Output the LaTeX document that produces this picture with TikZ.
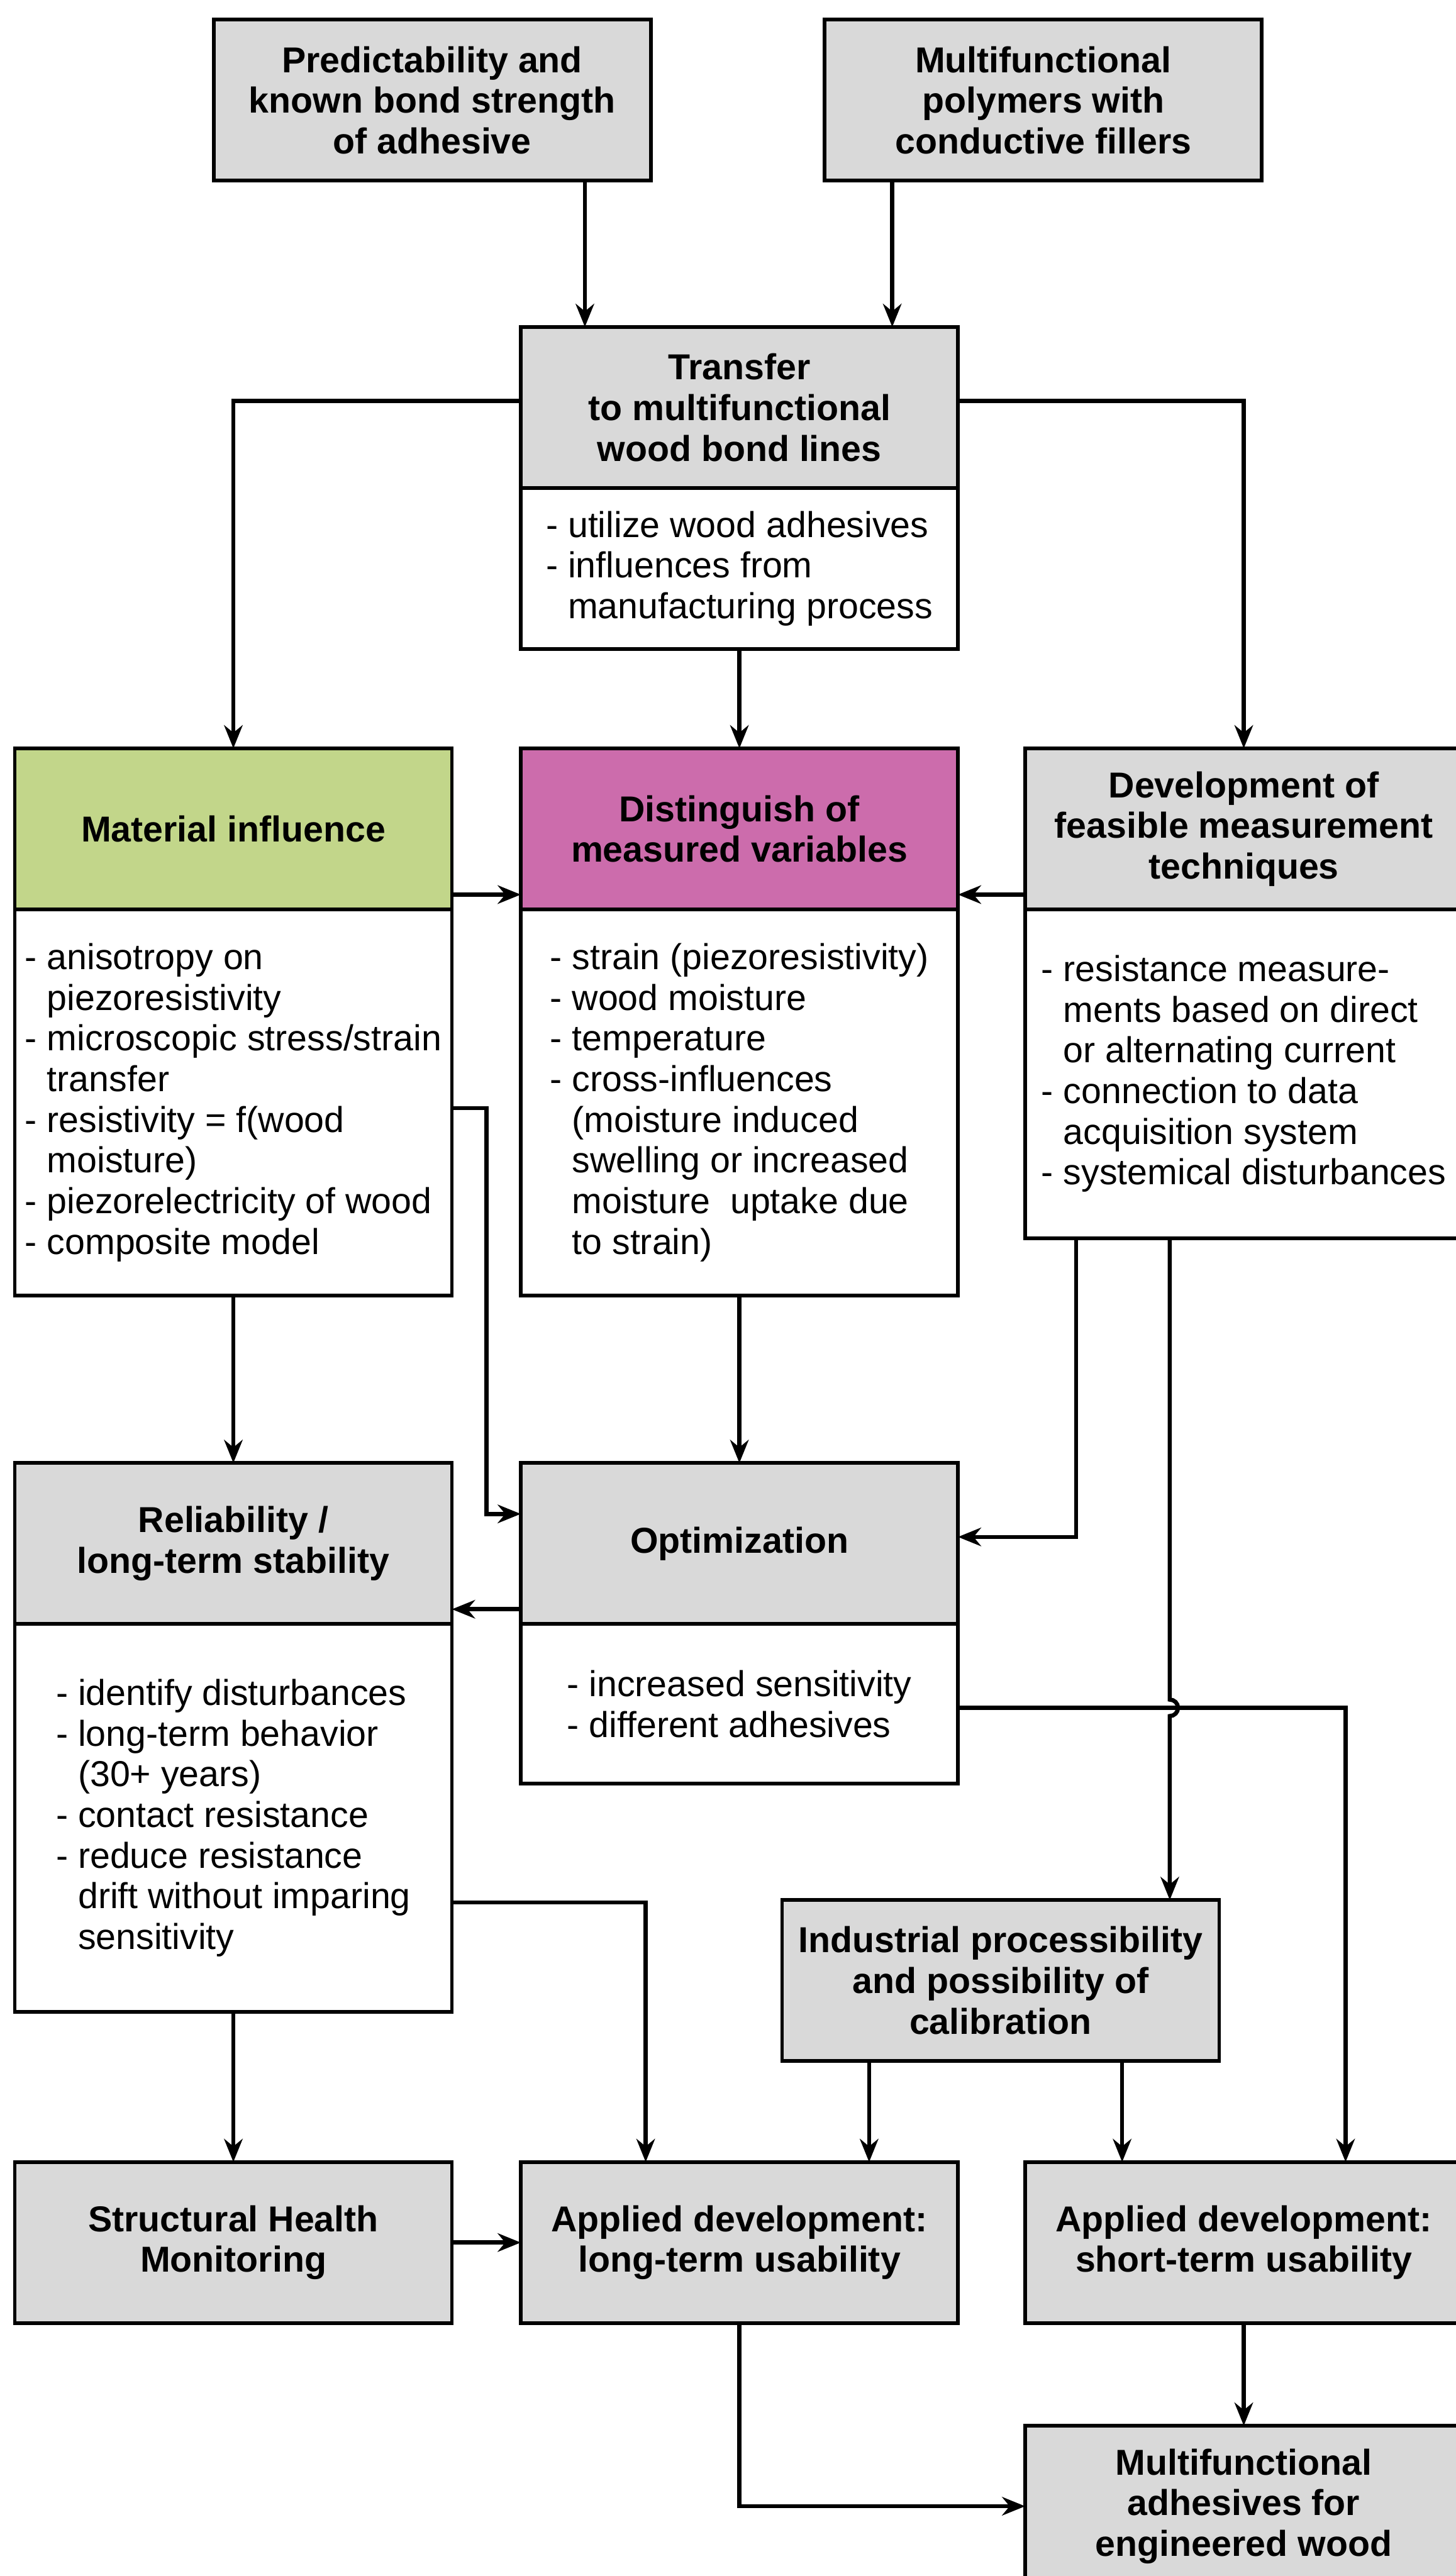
\documentclass[tikz,border=0pt]{standalone}
\usepackage{fontspec}
\setmainfont{Liberation Sans}
\usepackage{tikz}
\usetikzlibrary{arrows.meta, positioning, calc}
\usepackage{xcolor}

\definecolor{boxgrey}{RGB}{217,217,217}
\definecolor{matgreen}{RGB}{194,214,138}
\definecolor{distpink}{RGB}{204,108,172}
\newcommand{\listind}{\hphantom{-\ }}

\begin{document}
\begin{tikzpicture}[
    x=0.025cm, y=-0.025cm,
    line width=1.8pt,
    font=\fontsize{15.6}{17.6}\selectfont,
    box/.style={rectangle, draw, line width=1.6pt, outer sep=0pt, inner sep=3pt, minimum width=6.65cm, anchor=north west},
    greybox/.style={box, fill=boxgrey, minimum height=2.45cm, align=center, font=\fontsize{15.6}{17.6}\selectfont\bfseries},
    greenbox/.style={greybox, fill=matgreen},
    pinkbox/.style={greybox, fill=distpink},
    listbox/.style={box, fill=white, align=left, anchor=north},
    >={Stealth[length=10pt, width=8pt]}
]
\useasboundingbox (0,0) rectangle (886,1568);

% Top row
\node[greybox] (pred) at (130,12) {Predictability and\\known bond strength\\of adhesive};
\node[greybox] (polym) at (502,12) {Multifunctional\\polymers with\\conductive fillers};

\node[greybox] (transfer) at (317,199) {Transfer\\to multifunctional\\wood bond lines};
\node[listbox, minimum height=2.45cm, below=0pt of transfer] (transferbody) {- utilize wood adhesives\\- influences from\\\listind manufacturing process};

% Second row
\node[greenbox] (material) at (9,455.5) {Material influence};
\node[listbox, minimum height=5.875cm, below=0pt of material] (matbody) {- anisotropy on\\\listind piezoresistivity\\- microscopic stress/strain\\\listind transfer\\- resistivity = f(wood\\\listind moisture)\\- piezorelectricity of wood\\- composite model};

\node[pinkbox] (distinguish) at (317,455.5) {Distinguish of\\measured variables};
\node[listbox, minimum height=5.875cm, below=0pt of distinguish] (distbody) {- strain (piezoresistivity)\\- wood moisture\\- temperature\\- cross-influences\\\listind (moisture induced\\\listind swelling or increased\\\listind moisture\ \ uptake due\\\listind to strain)};

\node[greybox] (develop) at (624,455.5) {Development of\\feasible measurement\\techniques};
\node[listbox, minimum height=5.0cm, below=0pt of develop] (devbody) {- resistance measure-\\\listind ments based on direct\\\listind or alternating current\\- connection to data\\\listind acquisition system\\- systemical disturbances};

% Third row
\node[greybox] (reliab) at (9,890.5) {Reliability /\\long-term stability};
\node[listbox, minimum height=5.9cm, below=0pt of reliab] (reliabbody) {- identify disturbances\\- long-term behavior\\\listind (30+ years)\\- contact resistance\\- reduce resistance\\\listind drift without imparing\\\listind sensitivity};

\node[greybox] (optim) at (317,890.5) {Optimization};
\node[listbox, minimum height=2.43cm, below=0pt of optim] (optimbody) {- increased sensitivity\\- different adhesives};

\node[greybox] (industrial) at (476,1156.5) {Industrial processibility\\and possibility of\\calibration};

% Bottom row
\node[greybox] (shm) at (9,1316) {Structural Health\\Monitoring};
\node[greybox] (longterm) at (317,1316) {Applied development:\\long-term usability};
\node[greybox] (shortterm) at (624,1316) {Applied development:\\short-term usability};
\node[greybox] (final) at (624,1476.5) {Multifunctional\\adhesives for\\engineered wood};

% Connectors
\coordinate (in1) at ($(transfer.north west)+(39,0)$);
\coordinate (in2) at ($(transfer.north east)+(-40,0)$);
\draw[->] (pred.south -| in1) -- (in1);
\draw[->] (polym.south -| in2) -- (in2);

\draw[->] ($(transfer.west)+(0,-4)$) -| (material.north);
\draw[->] ($(transfer.east)+(0,-4)$) -| (develop.north);
\draw[->] (transferbody.south) -- (distinguish.north);

\draw[->] ($(material.south east)+(0,-9)$) -- ($(distinguish.south west)+(0,-9)$);
\draw[->] ($(develop.south west)+(0,-9)$) -- ($(distinguish.south east)+(0,-9)$);

\coordinate (m1) at ($(matbody.north east)+(0,121)$);
\draw[->] (m1) -- ++(21,0) |- ($(optim.north west)+(0,31)$);

\draw[->] (matbody.south) -- (reliab.north);
\draw[->] (distbody.south) -- (optim.north);
\draw[->] ($(devbody.south west)+(31,0)$) |- ($(optim.east)+(0,-4)$);
\draw[->] ($(optim.south west)+(0,-9)$) -- ($(reliab.south east)+(0,-9)$);

% line to industrial, hops over the optimization line
\coordinate (d2) at ($(devbody.south west)+(88,0)$);
\coordinate (o2) at ($(optimbody.north east)+(0,51)$);
\coordinate (hop) at (d2 |- o2);
\draw[->] (d2) -- ($(hop)+(0,-5)$) arc[start angle=90, end angle=-90, radius=0.125cm] -- (d2 |- industrial.north);
\draw[->] (o2) -| ($(shortterm.north west)+(195,0)$);

\coordinate (r1) at ($(reliabbody.north east)+(0,169.5)$);
\draw[->] (r1) -| ($(longterm.north west)+(76,0)$);
\draw[->] (reliabbody.south) -- (shm.north);

\coordinate (i1) at ($(industrial.south west)+(53,0)$);
\coordinate (i2) at ($(industrial.south west)+(207,0)$);
\draw[->] (i1) -- (i1 |- longterm.north);
\draw[->] (i2) -- (i2 |- shortterm.north);

% Bottom connections
\draw[->] (shm) -- (longterm);
\draw[->] (longterm.south) |- (final.west);
\draw[->] (shortterm.south) -- (final.north);

\end{tikzpicture}
\end{document}
